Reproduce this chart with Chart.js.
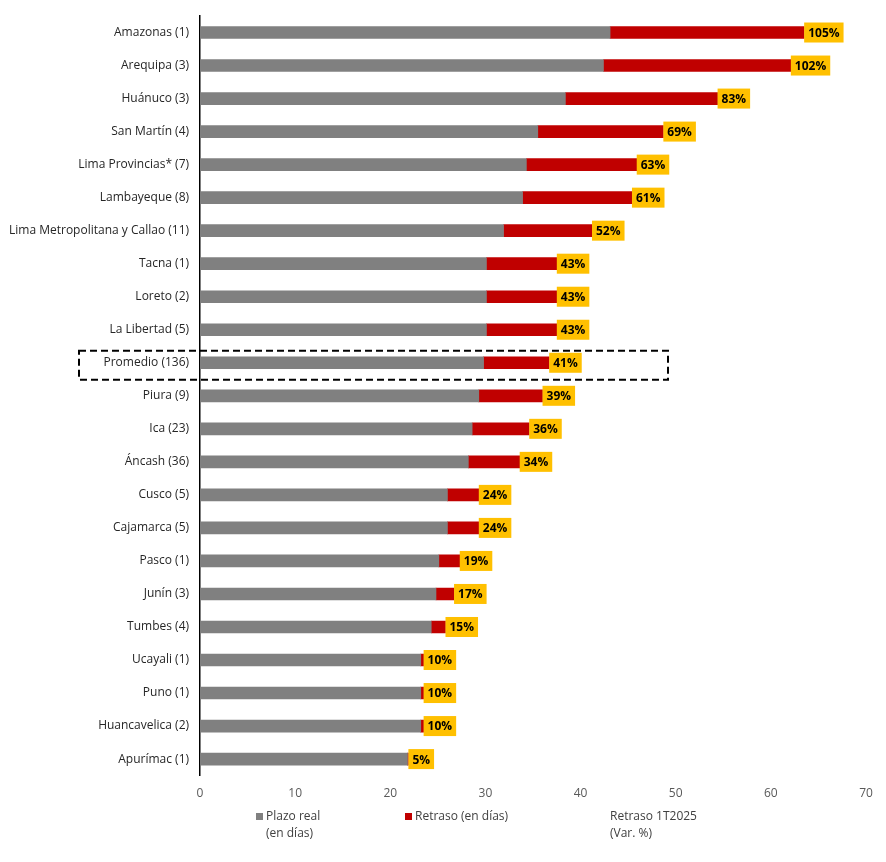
<!DOCTYPE html>
<html><head><meta charset="utf-8">
<script src="https://cdn.jsdelivr.net/npm/chart.js@4"></script>
<style>html,body{margin:0;padding:0;background:#fff}#w{width:886px;height:862px}</style>
</head><body><div id="w"><canvas id="c"></canvas></div>
<script>
const categories=["Amazonas (1)","Arequipa (3)","Huánuco (3)","San Martín (4)","Lima Provincias* (7)","Lambayeque (8)","Lima Metropolitana y Callao (11)","Tacna (1)","Loreto (2)","La Libertad (5)","Promedio (136)","Piura (9)","Ica (23)","Áncash (36)","Cusco (5)","Cajamarca (5)","Pasco (1)","Junín (3)","Tumbes (4)","Ucayali (1)","Puno (1)","Huancavelica (2)","Apurímac (1)"];
const plazoReal=[43.1,42.4,38.4,35.5,34.3,33.9,31.9,30.1,30.1,30.1,29.8,29.3,28.6,28.2,26.0,26.0,25.1,24.8,24.3,23.2,23.2,23.2,21.8];
const retraso=[20.4,19.7,16.0,13.2,11.6,11.5,9.3,7.4,7.4,7.4,6.9,6.7,6.0,5.4,3.3,3.3,2.2,1.9,1.5,0.3,0.3,0.3,0.1];
const variacion=["105%","102%","83%","69%","63%","61%","52%","43%","43%","43%","41%","39%","36%","34%","24%","24%","19%","17%","15%","10%","10%","10%","5%"];
const FONT="'Open Sans', sans-serif";
const extras={id:'extras',afterDatasetsDraw(ch){
  const ctx=ch.ctx,x=ch.scales.x,y=ch.scales.y;
  ctx.save();ctx.font="bold 12px "+FONT;ctx.textBaseline='middle';
  categories.forEach((c,i)=>{
    const xe=x.getPixelForValue(plazoReal[i]+retraso[i]),yc=y.getPixelForValue(i);
    const t=variacion[i],w=ctx.measureText(t).width+8;
    ctx.fillStyle='#FFC000';ctx.fillRect(xe,yc-10,w,20);
    ctx.fillStyle='#000';ctx.textAlign='left';ctx.fillText(t,xe+4,yc+1);
  });
  const pi=categories.indexOf("Promedio (136)"),py=y.getPixelForValue(pi);
  ctx.setLineDash([7,4]);ctx.lineWidth=2;ctx.strokeStyle='#000';
  ctx.strokeRect(79,py-12,589,29);ctx.setLineDash([]);
  ctx.font="12px "+FONT;ctx.textAlign='left';ctx.textBaseline='middle';
  ctx.fillStyle='#808080';ctx.fillRect(256,813,7,7);
  ctx.fillStyle='#404040';ctx.fillText("Plazo real",266,817);ctx.fillText("(en días)",266,834);
  ctx.fillStyle='#C00000';ctx.fillRect(405,813,7,7);
  ctx.fillStyle='#404040';ctx.fillText("Retraso (en días)",415,817);
  ctx.fillText("Retraso 1T2025",610,817);ctx.fillText("(Var. %)",610,834);
  ctx.restore();
}};
new Chart(document.getElementById('c'),{type:'bar',
data:{labels:categories,datasets:[
 {label:'Plazo real',data:plazoReal,backgroundColor:'#808080',barThickness:12},
 {label:'Retraso (en días)',data:retraso,backgroundColor:'#C00000',barThickness:12}]},
options:{indexAxis:'y',responsive:true,maintainAspectRatio:false,animation:false,
 layout:{padding:{left:6,right:20,top:16,bottom:58}},
 plugins:{legend:{display:false},tooltip:{enabled:false}},
 scales:{
  x:{stacked:true,min:0,max:70,ticks:{stepSize:10,color:'#595959',font:{family:FONT,size:12}},grid:{display:false},border:{display:false}},
  y:{stacked:true,ticks:{color:'#262626',font:{family:FONT,size:12},autoSkip:false},grid:{display:false},border:{display:true,color:'#000',width:1.5}}
 }},plugins:[extras]});
</script></body></html>
